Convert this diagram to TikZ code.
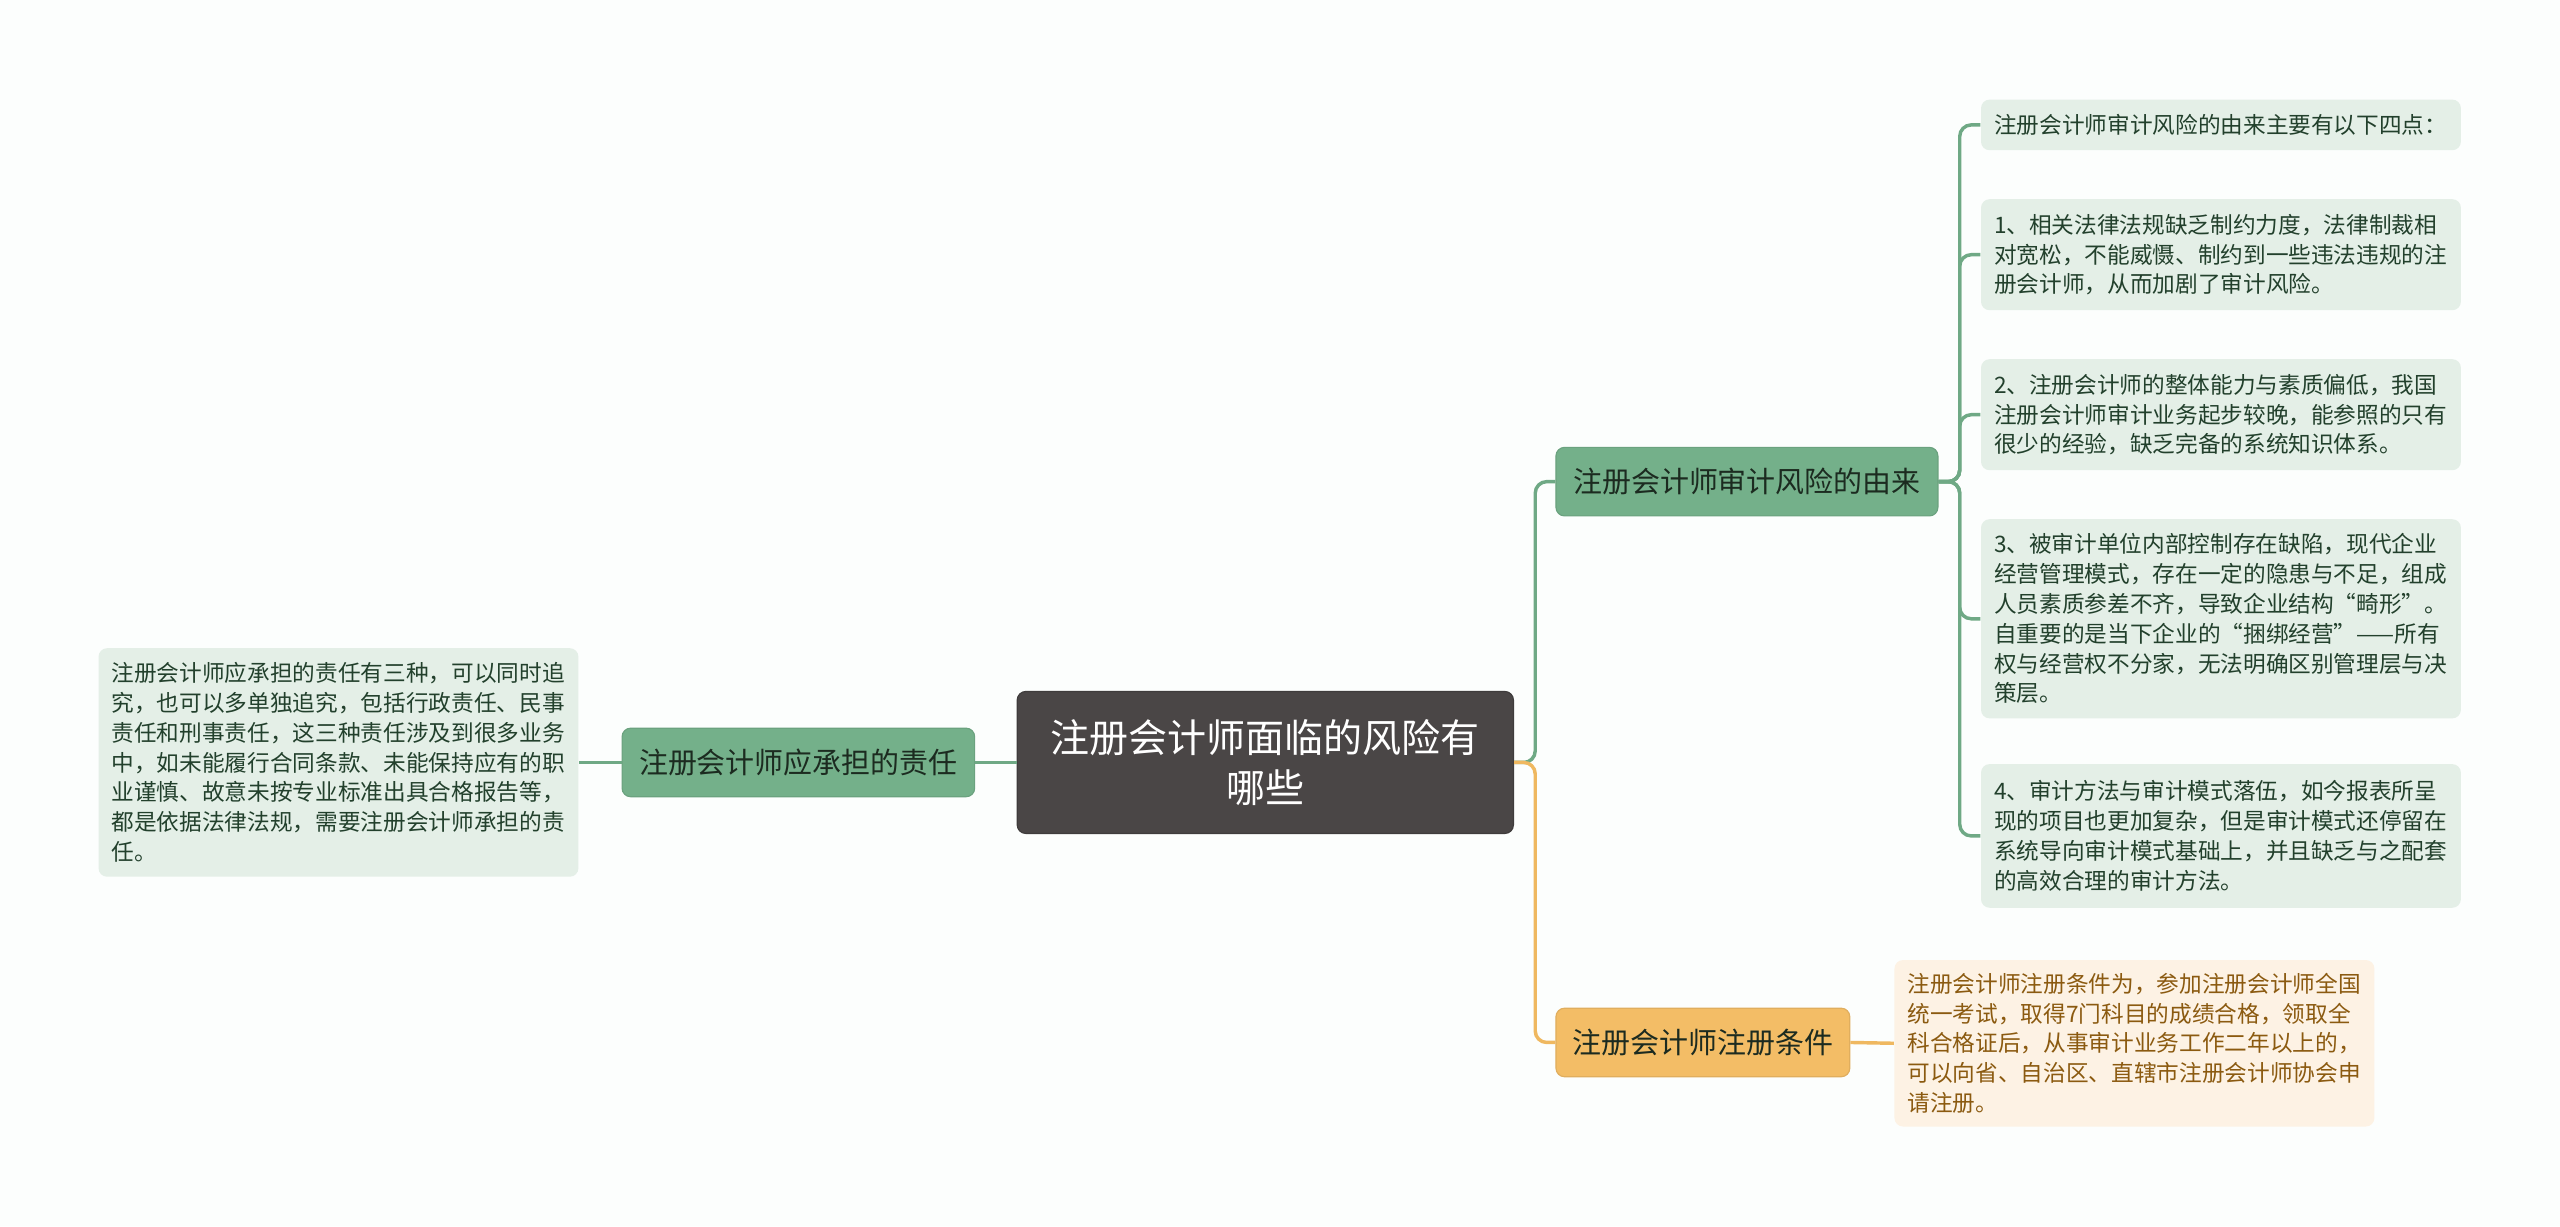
\documentclass[tikz,border=0pt]{standalone}
\usepackage{fontspec}
\setmainfont{Noto Sans CJK SC}
\definecolor{bgcol}{HTML}{FCFEFD}
\definecolor{rootfill}{HTML}{4A4646}
\definecolor{topicgreen}{HTML}{74B08A}
\definecolor{topictext}{HTML}{1C2B20}
\definecolor{linegreen}{HTML}{6FA985}
\definecolor{leafgreen}{HTML}{E4EFE7}
\definecolor{leaftext}{HTML}{22402C}
\definecolor{topicorange}{HTML}{F3BD66}
\definecolor{lineorange}{HTML}{EFB860}
\definecolor{leaforange}{HTML}{FDF2E4}
\definecolor{orangetext}{HTML}{8B5A10}
\newcommand{\lf}{\fontsize{7.9pt}{10.4pt}\selectfont}
\newcommand{\tp}{\fontsize{10.1pt}{12pt}\selectfont}
\newcommand{\rt}{\fontsize{13.6pt}{17.6pt}\selectfont}

\begin{document}
\begin{tikzpicture}[x=0.02cm,y=-0.02cm,
   root/.style={fill=rootfill,draw=rootfill!85!black,rounded corners=3pt,text=white,
     font=\rt,align=center,minimum width=6.08cm,minimum height=1.74cm,inner sep=0pt},
   topic/.style={fill=topicgreen,draw=topicgreen!92!black,rounded corners=3pt,font=\tp,
     text=topictext,minimum height=0.84cm,inner sep=0pt},
   leaf/.style={fill=leafgreen,rounded corners=3pt,font=\lf,text=leaftext,text width=5.56cm,
     align=left,inner xsep=0.16cm,inner ysep=0pt,anchor=west},
   gline/.style={draw=linegreen,line width=1.2pt,rounded corners=4pt},
   oline/.style={draw=lineorange,line width=1.2pt,rounded corners=4pt}]
   \fill[bgcol] (0,0) rectangle (1568,751);
   \useasboundingbox (0,0) rectangle (1568,751);
   % centre
   \node[root] (root) at (775,467) {注册会计师面临的风险有\\哪些};
   % left side
   \node[topic,minimum width=4.32cm] (resp) at (489,467) {注册会计师应承担的责任};
   \node[leaf,minimum height=2.8cm] (respleaf) at (60,467)
    {注册会计师应承担的责任有三种，可以同时追\\究，也可以多单独追究，包括行政责任、民事\\责任和刑事责任，这三种责任涉及到很多业务\\中，如未能履行合同条款、未能保持应有的职\\业谨慎、故意未按专业标准出具合格报告等，\\都是依据法律法规，需要注册会计师承担的责\\任。};
   % right side
   \node[topic,minimum width=4.68cm] (orig) at (1070,295) {注册会计师审计风险的由来};
   \node[topic,fill=topicorange,draw=topicorange!92!black,minimum width=3.6cm] (cond) at (1043,638.5) {注册会计师注册条件};
   \node[leaf,minimum height=0.62cm] (l0) at (1213,76.5) {注册会计师审计风险的由来主要有以下四点：};
   \node[leaf,minimum height=1.36cm] (l1) at (1213,156)
    {1、相关法律法规缺乏制约力度，法律制裁相\\对宽松，不能威慑、制约到一些违法违规的注\\册会计师，从而加剧了审计风险。};
   \node[leaf,minimum height=1.36cm] (l2) at (1213,254)
    {2、注册会计师的整体能力与素质偏低，我国\\注册会计师审计业务起步较晚，能参照的只有\\很少的经验，缺乏完备的系统知识体系。};
   \node[leaf,minimum height=2.44cm] (l3) at (1213,379)
    {3、被审计单位内部控制存在缺陷，现代企业\\经营管理模式，存在一定的隐患与不足，组成\\人员素质参差不齐，导致企业结构“畸形”。\\自重要的是当下企业的“捆绑经营”——所有\\权与经营权不分家，无法明确区别管理层与决\\策层。};
   \node[leaf,minimum height=1.76cm] (l4) at (1213,512)
    {4、审计方法与审计模式落伍，如今报表所呈\\现的项目也更加复杂，但是审计模式还停留在\\系统导向审计模式基础上，并且缺乏与之配套\\的高效合理的审计方法。};
   \node[leaf,fill=leaforange,text=orangetext,minimum height=2.04cm] (condleaf) at (1160,639)
    {注册会计师注册条件为，参加注册会计师全国\\统一考试，取得7门科目的成绩合格，领取全\\科合格证后，从事审计业务工作二年以上的，\\可以向省、自治区、直辖市注册会计师协会申\\请注册。};
   % connectors
   \draw[gline] (root.west) -- (resp.east);
   \draw[gline] (resp.west) -- (respleaf.east);
   \draw[gline] (root.east) -- ++(13,0) |- (orig.west);
   \foreach \n in {l0,l1,l2,l3,l4}
     \draw[gline] (orig.east) -- ++(13,0) |- (\n.west);
   \draw[oline] (root.east) -- ++(13,0) |- (cond.west);
   \draw[oline] (cond.east) -- (condleaf.west);
\end{tikzpicture}
\end{document}
